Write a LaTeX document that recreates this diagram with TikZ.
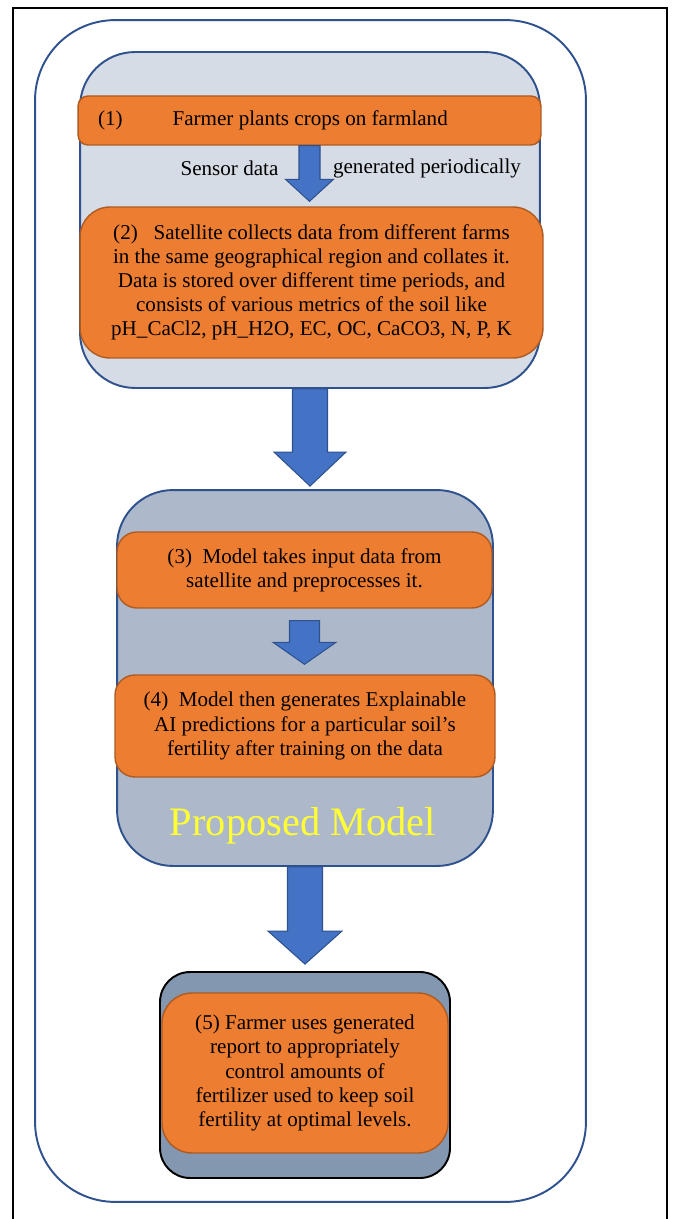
\documentclass[tikz,border=0pt]{standalone}
\usepackage{fontspec}
\setmainfont{Liberation Serif}
\usetikzlibrary{calc}

\definecolor{stepfill}{HTML}{ED7D31}
\definecolor{stepline}{HTML}{AE5A21}
\definecolor{frameblue}{HTML}{2F528F}
\definecolor{arrowblue}{HTML}{4472C4}
\definecolor{sensebg}{HTML}{D6DCE5}
\definecolor{modelbg}{HTML}{ADB9CA}
\definecolor{reportbg}{HTML}{8497B0}
\definecolor{titleyellow}{HTML}{FFFF33}

% block arrow: start, tip, half shaft, half head, head length
\newcommand{\fatarrow}[5]{%
  \filldraw[fatarrow] ($(#1)+(-#3,0)$) -- ($(#1)+(#3,0)$) -- ($(#2)+(#3,-#5)$)
    -- ($(#2)+(#4,-#5)$) -- (#2) -- ($(#2)+(-#4,-#5)$) -- ($(#2)+(-#3,-#5)$) -- cycle;}

\begin{document}
\begin{tikzpicture}[x=0.02cm, y=-0.02cm,
        stepbox/.style={rectangle,draw=stepline,fill=stepfill,line width=0.8pt,
          rounded corners=#1,inner sep=0pt,align=center,
          font=\fontsize{12pt}{13.7pt}\selectfont},
        stepbox/.default=0.4cm,
        group/.style={rectangle,draw=frameblue,line width=1.1pt,
          rounded corners=#1,inner sep=0pt},
        fatarrow/.style={fill=arrowblue,draw=frameblue,line width=0.6pt},
        note/.style={inner sep=0pt,font=\fontsize{12pt}{13.7pt}\selectfont}]
      \useasboundingbox (0,0) rectangle (673,1219);
      \draw[line width=1.1pt] (13,1230) -- (13,8) -- (667,8) -- (667,1230);
      % containers
      \node (outer) at (310.5,611) [group=1.6cm,fill=white,
        minimum width=11.02cm,minimum height=23.64cm] {};
      \node (sensing) at (310,220) [group=1.1cm,fill=sensebg,
        minimum width=9.2cm,minimum height=6.72cm] {};
      \node (model) at (305,678) [group=1.12cm,fill=modelbg,
        minimum width=7.52cm,minimum height=7.52cm] {};
      \node (report) at (305,1075) [group=0.6cm,fill=reportbg,draw=black,
        minimum width=5.8cm,minimum height=4.12cm] {};
      % steps
      \node (farm) at (309.5,120.5) [stepbox=0.2cm,minimum width=9.26cm,minimum height=0.98cm]
        {\makebox[8.46cm][l]{(1)\hspace{1cm}Farmer plants crops on farmland}};
      \node (satellite) at (311.5,282.5) [stepbox=0.6cm,minimum width=9.26cm,minimum height=3.02cm]
        {(2)~~~Satellite collects data from different farms\\
         in the same geographical region and collates it.\\
         Data is stored over different time periods, and\\
         consists of various metrics of the soil like\\
         pH\_CaCl2, pH\_H2O, EC, OC, CaCO3, N, P, K};
      \node (prep) at (304.5,570) [stepbox,minimum width=7.5cm,minimum height=1.52cm]
        {(3)~~Model takes input data from\\ satellite and preprocesses it.};
      \node (xai) at (305,726) [stepbox,minimum width=7.6cm,minimum height=2.04cm]
        {(4)~~Model then generates Explainable\\
         AI predictions for a particular soil’s\\
         fertility after training on the data};
      \node (advice) at (305,1073) [stepbox=0.6cm,minimum width=5.72cm,minimum height=3.2cm]
        {(5) Farmer uses generated\\ report to appropriately\\ control amounts of\\
         fertilizer used to keep soil\\ fertility at optimal levels.};
      \node (title) at (303,826) [inner sep=0pt,text=titleyellow,
        font=\fontsize{23pt}{26pt}\selectfont] {Proposed Model};
      % arrows
      \coordinate (t1) at ($(farm.south |- satellite.north)+(0,-5)$);
      \coordinate (t2) at ($(sensing.south |- model.north)+(0,-3)$);
      \coordinate (s3) at ($(prep.south)+(0,12)$);
      \coordinate (t3) at ($(prep.south |- xai.north)+(0,-10)$);
      \coordinate (t4) at ($(model.south |- report.north)+(0,-7)$);
      \fatarrow{farm.south}{t1}{10.5}{24}{22}
      \fatarrow{sensing.south}{t2}{17.5}{36}{34}
      \fatarrow{s3}{t3}{15}{31.5}{22}
      \fatarrow{model.south}{t4}{17.5}{37}{33}
      \node (sensorlabel) at (229.5,168) [note] {Sensor data};
      \node (periodlabel) at (427,168) [note] {generated periodically};
\end{tikzpicture}
\end{document}
